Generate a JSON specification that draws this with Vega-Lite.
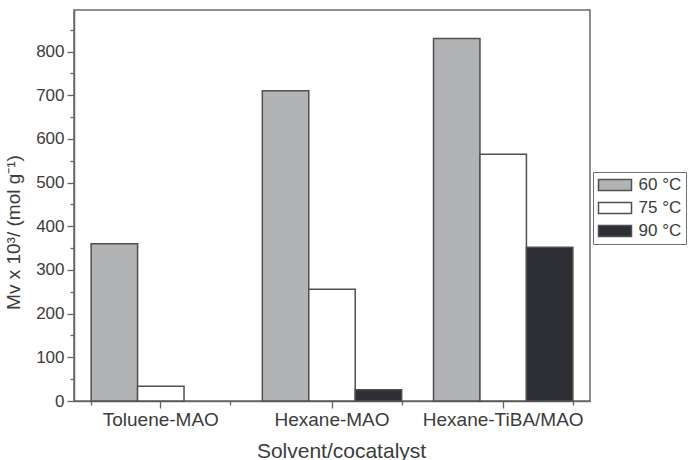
{
  "$schema": "https://vega.github.io/schema/vega-lite/v6.json",
  "width": 516,
  "height": 391,
  "autosize": {"type": "none"},
  "padding": {"left": 74, "top": 10, "right": 102, "bottom": 59},
  "background": "white",
  "config": {
    "font": "Liberation Sans",
    "view": {"stroke": "#6a6a6a", "strokeWidth": 1.5},
    "axis": {
      "grid": false,
      "domainColor": "#666666",
      "domainWidth": 1.5,
      "tickColor": "#666666",
      "tickWidth": 1.3,
      "labelColor": "#3c3c3c",
      "titleColor": "#3c3c3c",
      "labelFont": "Liberation Sans",
      "titleFont": "Liberation Sans",
      "titleFontWeight": "normal"
    },
    "legend": {
      "orient": "none",
      "legendX": 519,
      "legendY": 162,
      "strokeColor": "#707070",
      "fillColor": "white",
      "padding": 4.5,
      "rowPadding": 5,
      "symbolType": "M-3,-1H3V1H-3Z",
      "symbolSize": 121,
      "symbolOffset": 9,
      "symbolStrokeColor": "#505050",
      "symbolStrokeWidth": 1.5,
      "symbolOpacity": 1,
      "labelFont": "Liberation Sans",
      "labelFontSize": 17,
      "labelColor": "#3c3c3c",
      "labelOffset": 15
    }
  },
  "data": {
    "values": [
      {"system": "Toluene-MAO", "temp": "60 °C", "mv": 360},
      {"system": "Toluene-MAO", "temp": "75 °C", "mv": 34},
      {"system": "Hexane-MAO", "temp": "60 °C", "mv": 710},
      {"system": "Hexane-MAO", "temp": "75 °C", "mv": 256},
      {"system": "Hexane-MAO", "temp": "90 °C", "mv": 26},
      {"system": "Hexane-TiBA/MAO", "temp": "60 °C", "mv": 830},
      {"system": "Hexane-TiBA/MAO", "temp": "75 °C", "mv": 565},
      {"system": "Hexane-TiBA/MAO", "temp": "90 °C", "mv": 352}
    ]
  },
  "layer": [
    {
      "mark": {"type": "bar", "stroke": "#505050", "strokeWidth": 1.5},
      "encoding": {
        "x": {
          "field": "system",
          "type": "nominal",
          "sort": ["Toluene-MAO", "Hexane-MAO", "Hexane-TiBA/MAO"],
          "scale": {"paddingInner": 0.186, "paddingOuter": 0.1},
          "axis": {
            "orient": "bottom",
            "title": "Solvent/cocatalyst",
            "titleFontSize": 21,
            "titleX": 267,
            "titleY": 39,
            "titleAlign": "center",
            "labelAngle": 0,
            "labelFontSize": 19,
            "labelDx": 6,
            "labelPadding": 2,
            "tickSize": 7
          }
        },
        "xOffset": {
          "field": "temp",
          "type": "nominal",
          "sort": ["60 °C", "75 °C", "90 °C"]
        },
        "y": {
          "field": "mv",
          "type": "quantitative",
          "scale": {"domain": [0, 895], "nice": false, "zero": true},
          "axis": {
            "orient": "left",
            "values": [0, 100, 200, 300, 400, 500, 600, 700, 800],
            "title": "Mv x 10³/ (mol g⁻¹)",
            "titleFontSize": 19,
            "titleAngle": -90,
            "titleX": -61,
            "titleY": 222,
            "titleAlign": "center",
            "titleBaseline": "middle",
            "labelFontSize": 17,
            "labelPadding": 3,
            "tickSize": 7
          }
        },
        "fill": {
          "field": "temp",
          "type": "nominal",
          "sort": ["60 °C", "75 °C", "90 °C"],
          "scale": {
            "domain": ["60 °C", "75 °C", "90 °C"],
            "range": ["#b2b3b5", "#ffffff", "#2e2f34"]
          },
          "legend": {"title": null}
        }
      }
    },
    {
      "mark": {"type": "bar", "opacity": 0},
      "encoding": {
        "x": {
          "field": "system",
          "type": "nominal",
          "sort": ["Toluene-MAO", "Hexane-MAO", "Hexane-TiBA/MAO"],
          "scale": {"paddingInner": 0.186, "paddingOuter": 0.1},
          "axis": {
            "orient": "bottom",
            "tickBand": "extent",
            "labels": false,
            "domain": false,
            "title": null,
            "tickSize": 4
          }
        },
        "y": {
          "field": "mv",
          "type": "quantitative",
          "scale": {"domain": [0, 895], "nice": false, "zero": true},
          "axis": {
            "orient": "left",
            "values": [50, 150, 250, 350, 450, 550, 650, 750, 850],
            "labels": false,
            "domain": false,
            "title": null,
            "tickSize": 4
          }
        }
      }
    }
  ],
  "resolve": {"axis": {"x": "independent", "y": "independent"}}
}
